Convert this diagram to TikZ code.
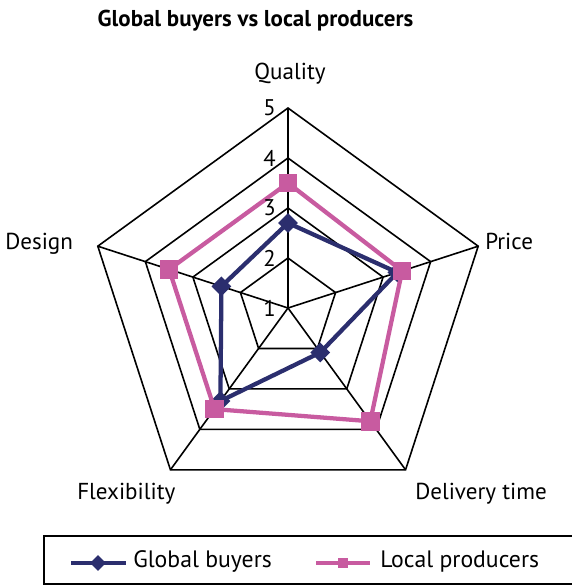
\documentclass[tikz,border=0pt]{standalone}
\usepackage{fontspec}
\setmainfont{PT Sans}
\usetikzlibrary{shapes.geometric}
\definecolor{gcol}{HTML}{2B2E6E}
\definecolor{lcol}{HTML}{C85BA0}
\begin{document}
\begin{tikzpicture}[x=0.75pt,y=0.75pt,
  gridline/.style={black,line width=1.2pt,line join=miter},
  gser/.style={gcol,line width=3.2pt,line join=round},
  lser/.style={lcol,line width=3.2pt,line join=round},
  gmark/.style={diamond,fill=gcol,draw=none,minimum size=15pt,inner sep=0pt,shape aspect=1},
  lmark/.style={rectangle,fill=lcol,draw=none,minimum size=14pt,inner sep=0pt},
  lab/.style={font=\fontsize{17.3}{19}\selectfont,inner sep=0pt},
  leg/.style={font=\fontsize{17.8}{19}\selectfont,inner sep=0pt},
  num/.style={font=\fontsize{17}{19}\selectfont,inner sep=0pt,anchor=east},
  ttl/.style={font=\bfseries\fontsize{17.2}{19}\selectfont,inner sep=0pt}]
\useasboundingbox (0,0) rectangle (572,587);
\node[ttl,anchor=base] (title) at (255.5,560) {Global buyers vs local producers};
\begin{scope}[shift={(288,279)}]
  \foreach \r in {50,100,150,200}
    \draw[gridline] (90:\r) -- (18:\r) -- (-54:\r) -- (-126:\r) -- (162:\r) -- cycle;
  \coordinate (O) at (0,0);
  \foreach \a/\n in {90/q,18/p,-54/d,-126/f,162/e}
    \coordinate (ax\n) at (\a:200);
  \foreach \n in {q,p,d,f,e}
    \draw[gridline] (O) -- (ax\n);
  % global buyers
  \coordinate (g1) at (90:85);
  \coordinate (g2) at (18:115);
  \coordinate (g3) at (-54:55);
  \coordinate (g4) at (-126:115);
  \coordinate (g5) at (162:70);
  % local producers
  \coordinate (l1) at (90:125);
  \coordinate (l2) at (18:120);
  \coordinate (l3) at (-54:140);
  \coordinate (l4) at (-126:125);
  \coordinate (l5) at (162:125);
  \draw[gser] (g1) -- (g2) -- (g3) -- (g4) -- (g5) -- cycle;
  \foreach \i in {1,...,5} \node[gmark] (gm\i) at (g\i) {};
  \draw[lser] (l1) -- (l2) -- (l3) -- (l4) -- (l5) -- cycle;
  \foreach \i in {1,...,5} \node[lmark] (lm\i) at (l\i) {};
  \foreach \v/\r in {1/0,2/50,3/100,4/150,5/200}
    \node[num] (n\v) at (-12,\r) {\v};
\end{scope}
\node[lab,anchor=base] (lq) at (290,507) {Quality};
\node[lab,anchor=base west] (lp) at (485,337) {Price};
\node[lab,anchor=base west] (ld) at (415,87) {Delivery time};
\node[lab,anchor=base west] (lf) at (77,87) {Flexibility};
\node[lab,anchor=base west] (le) at (5,337) {Design};
% legend
\draw[black,line width=1.2pt] (44,3) rectangle (574,51);
\coordinate (a1) at (71,24); \coordinate (a2) at (126,24);
\draw[gser] (a1) -- (a2);
\node[gmark,minimum size=12pt] (ag) at (98,24) {};
\node[leg,anchor=base west] (tg) at (133,19) {Global buyers};
\coordinate (b1) at (316,24); \coordinate (b2) at (370,24);
\draw[lser] (b1) -- (b2);
\node[lmark,minimum size=8pt] (bl) at (343,24) {};
\node[leg,anchor=base west] (tl) at (380,19) {Local producers};
\end{tikzpicture}
\end{document}
